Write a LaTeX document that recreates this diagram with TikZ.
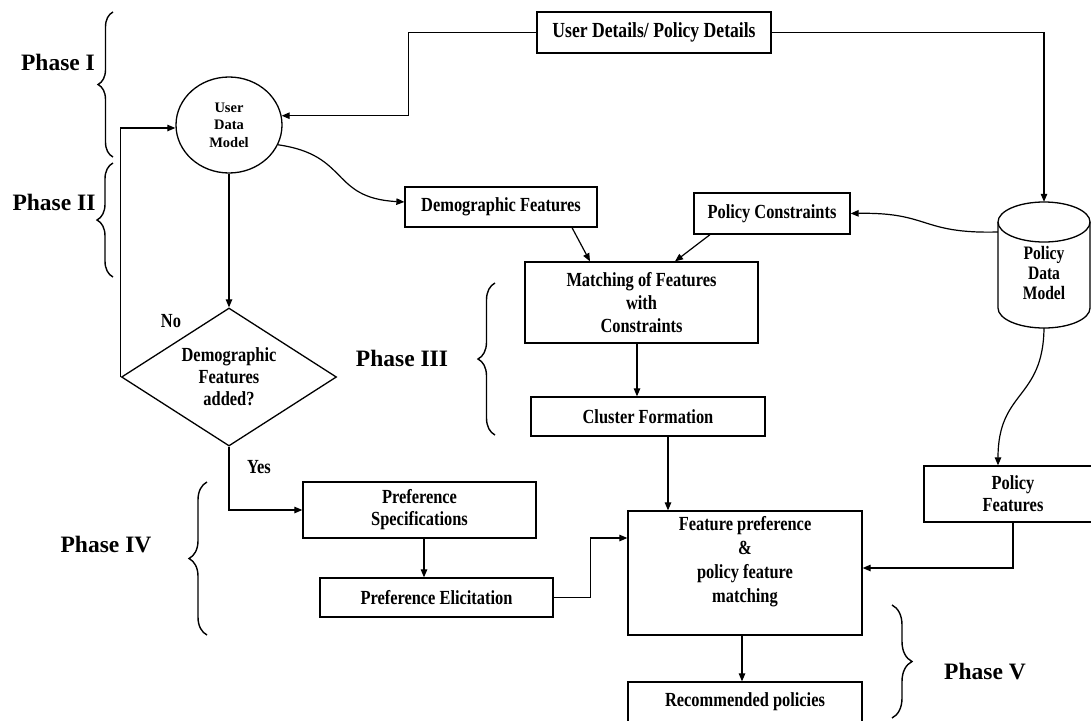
\documentclass[tikz,border=0pt]{standalone}
\usepackage{fontspec}
\setmainfont{Liberation Serif}
\newfontfamily\cfont{Liberation Serif}[FakeStretch=0.82]
\usetikzlibrary{arrows.meta,shapes.geometric,decorations.pathreplacing}
\begin{document}
\begin{tikzpicture}[x=1pt,y=-1pt,
  every node/.style={font=\cfont\bfseries\fontsize{20}{22}\selectfont, align=center},
  box/.style={draw, line width=1.3pt, rectangle, inner sep=0pt},
  arr/.style={line width=1.2pt, -{Triangle[length=8pt,width=6.5pt]}},
  ln/.style={line width=1.3pt},
  brc/.style={line width=1.4pt, decorate, decoration={brace, amplitude=#1}},
  phase/.style={font=\rmfamily\bfseries\fontsize{23.5}{26}\selectfont}]
\path[use as bounding box] (0,0) rectangle (1091,720);

% nodes
\node[box, minimum width=234pt, minimum height=41pt, font=\cfont\bfseries\fontsize{21.5}{22}\selectfont] (ud) at (654,32.5) {User Details/ Policy Details};
\node[draw, ellipse, line width=1.3pt, minimum width=106pt, minimum height=96pt, inner sep=0pt,
      font=\rmfamily\bfseries\fontsize{14.5}{17.5}\selectfont] (udm) at (229,125) {User\\Data\\Model};
\node[box, minimum width=192pt, minimum height=40pt] (demo) at (501,207) {Demographic Features};
\node[box, minimum width=156pt, minimum height=41pt] (pc) at (772,213.5) {Policy Constraints};
\node[minimum width=92pt, minimum height=126pt, inner sep=0pt] (pdm) at (1044,265) {};
\draw[ln] (998,222) -- (998,308) arc[start angle=180, end angle=360, x radius=46pt, y radius=20pt] -- (1090,222);
\draw[ln] (1044,222) ellipse [x radius=46pt, y radius=20pt];
\node[font=\cfont\bfseries\fontsize{19}{20}\selectfont] (pdmt) at (1044,273) {Policy\\Data\\Model};
\node[box, minimum width=233pt, minimum height=81pt, font=\cfont\bfseries\fontsize{20}{23}\selectfont] (match) at (641.5,302.5) {Matching of Features\\with\\Constraints};
\node[box, minimum width=234pt, minimum height=39pt] (cluster) at (648,416.5) {Cluster Formation};
\node[draw, diamond, aspect=1.56, line width=1.3pt, minimum width=215pt, minimum height=138pt, inner sep=0pt] (dia) at (229,377) {Demographic\\Features\\added?};
\node[box, minimum width=233pt, minimum height=56pt] (prefspec) at (419.5,510) {Preference\\Specifications};
\node[box, minimum width=233pt, minimum height=39pt] (prefelic) at (436.5,597.5) {Preference Elicitation};
\node[box, minimum width=234pt, minimum height=124pt] (feat) at (745,573) {};
\node[font=\cfont\bfseries\fontsize{20}{24}\selectfont] (featt) at (745,562) {Feature preference\\\&\\policy feature\\matching};
\node[box, minimum width=178pt, minimum height=56pt] (polfeat) at (1013,494) {Policy\\Features};
\node[box, minimum width=234pt, minimum height=40pt] (rec) at (745,702) {Recommended policies};

% labels
\node (no) at (171,321) {No};
\node (yes) at (259,467) {Yes};
\node[phase] (p1) at (58,62) {Phase I};
\node[phase] (p2) at (54,202) {Phase II};
\node[phase] (p3) at (402,358) {Phase III};
\node[phase] (p4) at (106,545) {Phase IV};
\node[phase] (p5) at (985,672) {Phase V};

% braces
\draw[brc=15pt] (113,157) -- (113,12);
\draw[brc=16pt] (113,277) -- (113,163);
\draw[brc=17pt] (495,435) -- (495,283);
\draw[brc=18pt] (207,635) -- (207,482);
\draw[brc=20pt] (892,605) -- (892,718);

% connectors
\draw[arr] (ud.west) -- ++(-128,0) |- (udm.10);
\draw[arr] (ud.east) -| (pdm.north);
\draw[arr] (udm.south) -- (dia.north);
\draw[arr] (udm.-22) .. controls (350,155) and (330,198) .. ([yshift=5pt]demo.west);
\draw[arr] (dia.west) |- ([yshift=-3pt]udm.west);
\draw[arr] (dia.south) |- (prefspec.west);
\draw[arr] ([xshift=4.5pt]prefspec.south) -- ([xshift=4.5pt]prefspec.south |- prefelic.north);
\draw[arr] (prefelic.east) -- ++(37,0) |- ([yshift=35pt]feat.west);
\draw[arr] ([xshift=71pt]demo.south) -- ([xshift=-51.5pt]match.north);
\draw[arr] ([xshift=-62pt]pc.south) -- ([xshift=33.5pt]match.north);
\draw[arr] ([yshift=33pt]pdm.west) .. controls (920,234) and (930,212) .. (pc.east);
\draw[arr] ([xshift=-4.5pt]match.south) -- ([xshift=-4.5pt]match.south |- cluster.north);
\draw[arr] ([xshift=20pt]cluster.south) -- ([xshift=20pt]cluster.south |- feat.north);
\draw[arr] (pdm.south) .. controls (1043,400) and (998,390) .. ([xshift=-15pt]polfeat.north);
\draw[arr] (polfeat.south) |- ([yshift=5pt]feat.east);
\draw[arr] ([xshift=-3pt]feat.south) -- ([xshift=-3pt]feat.south |- rec.north);
\end{tikzpicture}
\end{document}
